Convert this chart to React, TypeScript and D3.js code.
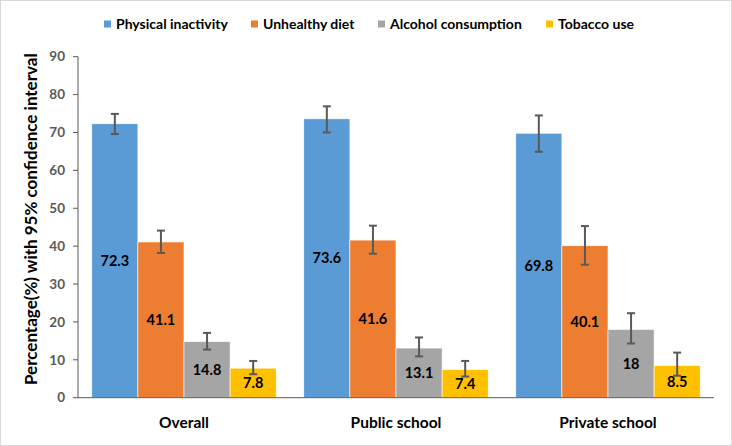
import { useRef, useEffect } from 'react'
import * as d3 from 'd3'

const CATEGORIES = ['Overall', 'Public school', 'Private school']
const SERIES = ['Physical inactivity', 'Unhealthy diet', 'Alcohol consumption', 'Tobacco use']

const VALUES: number[][] = [
  [72.3, 73.6, 69.8],
  [41.1, 41.6, 40.1],
  [14.8, 13.1, 18],
  [7.8, 7.4, 8.5],
]
const LOWER: number[][] = [
  [69.6, 70.0, 64.9],
  [38.2, 38.0, 35.1],
  [12.7, 10.9, 14.3],
  [6.2, 5.6, 5.8],
]
const UPPER: number[][] = [
  [74.9, 76.9, 74.5],
  [44.1, 45.4, 45.3],
  [17.1, 15.9, 22.3],
  [9.7, 9.7, 11.9],
]
const Y_TICKS = [0, 10, 20, 30, 40, 50, 60, 70, 80, 90]

const COLORS = ['#5b9bd5', '#ed7d31', '#a5a5a5', '#ffc000']
const FONT = 'Lato, "Open Sans", sans-serif'

const W = 732
const H = 446

export default function App() {
  const svgRef = useRef<SVGSVGElement>(null)

  useEffect(() => {
    document.body.style.margin = '0'
    if (!svgRef.current) return
    const svg = d3.select(svgRef.current)
    svg.selectAll('*').remove()

    const left = 78
    const right = 714
    const top = 56.7
    const bottom = 397.7

    svg.append('rect')
      .attr('x', 0.5).attr('y', 0.5)
      .attr('width', W - 1).attr('height', H - 1)
      .attr('fill', '#fff').attr('stroke', '#d9d9d9')

    const y = d3.scaleLinear().domain([0, 90]).range([bottom, top])
    const x0 = d3.scaleBand<string>().domain(CATEGORIES).range([left, right])
      .paddingInner(0.13).paddingOuter(0.065)
    const x1 = d3.scaleBand<string>().domain(SERIES).range([0, x0.bandwidth()])

    // bars
    SERIES.forEach((s, si) => {
      const g = svg.append('g')
      CATEGORIES.forEach((c, ci) => {
        const v = VALUES[si][ci]
        const bx = x0(c)! + x1(s)!
        g.append('rect')
          .attr('x', bx).attr('y', y(v))
          .attr('width', x1.bandwidth()).attr('height', y(0) - y(v))
          .attr('fill', COLORS[si])
          .attr('stroke', '#fff').attr('stroke-width', 0.6)

        // error bar
        const cx = bx + x1.bandwidth() / 2
        const lo = y(LOWER[si][ci])
        const hi = y(UPPER[si][ci])
        const eb = g.append('g').attr('stroke', '#595959').attr('stroke-width', 2)
        eb.append('line').attr('x1', cx).attr('x2', cx).attr('y1', lo).attr('y2', hi)
        eb.append('line').attr('x1', cx - 4).attr('x2', cx + 4).attr('y1', lo).attr('y2', lo)
        eb.append('line').attr('x1', cx - 4).attr('x2', cx + 4).attr('y1', hi).attr('y2', hi)

        g.append('text')
          .attr('x', cx).attr('y', (y(v) + y(0)) / 2)
          .attr('dy', '0.35em')
          .attr('text-anchor', 'middle')
          .attr('font-family', FONT).attr('font-weight', 700).attr('font-size', 14.5)
          .attr('fill', '#000')
          .text(String(v))
      })
    })

    // y axis
    const ya = svg.append('g')
    ya.append('line').attr('x1', left).attr('x2', left).attr('y1', top).attr('y2', bottom)
      .attr('stroke', '#595959').attr('stroke-width', 1)
    Y_TICKS.forEach((t) => {
      ya.append('line').attr('x1', left - 5).attr('x2', left).attr('y1', y(t)).attr('y2', y(t))
        .attr('stroke', '#595959')
      ya.append('text')
        .attr('x', left - 13).attr('y', y(t)).attr('dy', '0.35em')
        .attr('text-anchor', 'end')
        .attr('font-family', FONT).attr('font-weight', 700).attr('font-size', 13.5)
        .attr('fill', '#595959')
        .text(t)
    })

    // x axis
    svg.append('line').attr('x1', left).attr('x2', right).attr('y1', bottom).attr('y2', bottom)
      .attr('stroke', '#595959').attr('stroke-width', 1)
    CATEGORIES.forEach((c) => {
      svg.append('text')
        .attr('x', x0(c)! + x0.bandwidth() / 2).attr('y', 423).attr('dy', '0.35em')
        .attr('text-anchor', 'middle')
        .attr('font-family', FONT).attr('font-weight', 700).attr('font-size', 15.5)
        .attr('fill', '#000')
        .text(c)
    })

    // y axis title
    svg.append('text')
      .attr('transform', `translate(31,${(top + bottom) / 2 - 8}) rotate(-90)`)
      .attr('dy', '0.35em')
      .attr('text-anchor', 'middle')
      .attr('font-family', FONT).attr('font-weight', 700).attr('font-size', 17)
      .attr('fill', '#000')
      .text('Percentage(%) with 95% confidence interval')

    // legend
    const legendX = [104, 251, 378, 546]
    SERIES.forEach((s, si) => {
      const lg = svg.append('g').attr('transform', `translate(${legendX[si]},24)`)
      lg.append('rect').attr('x', 0).attr('y', -3.5).attr('width', 7).attr('height', 7).attr('fill', COLORS[si])
      lg.append('text')
        .attr('x', 12).attr('y', 0).attr('dy', '0.35em')
        .attr('font-family', FONT).attr('font-weight', 700).attr('font-size', 14)
        .attr('fill', '#000')
        .text(s)
    })
  }, [])

  return <svg ref={svgRef} width={W} height={H} style={{ display: 'block' }} />
}
